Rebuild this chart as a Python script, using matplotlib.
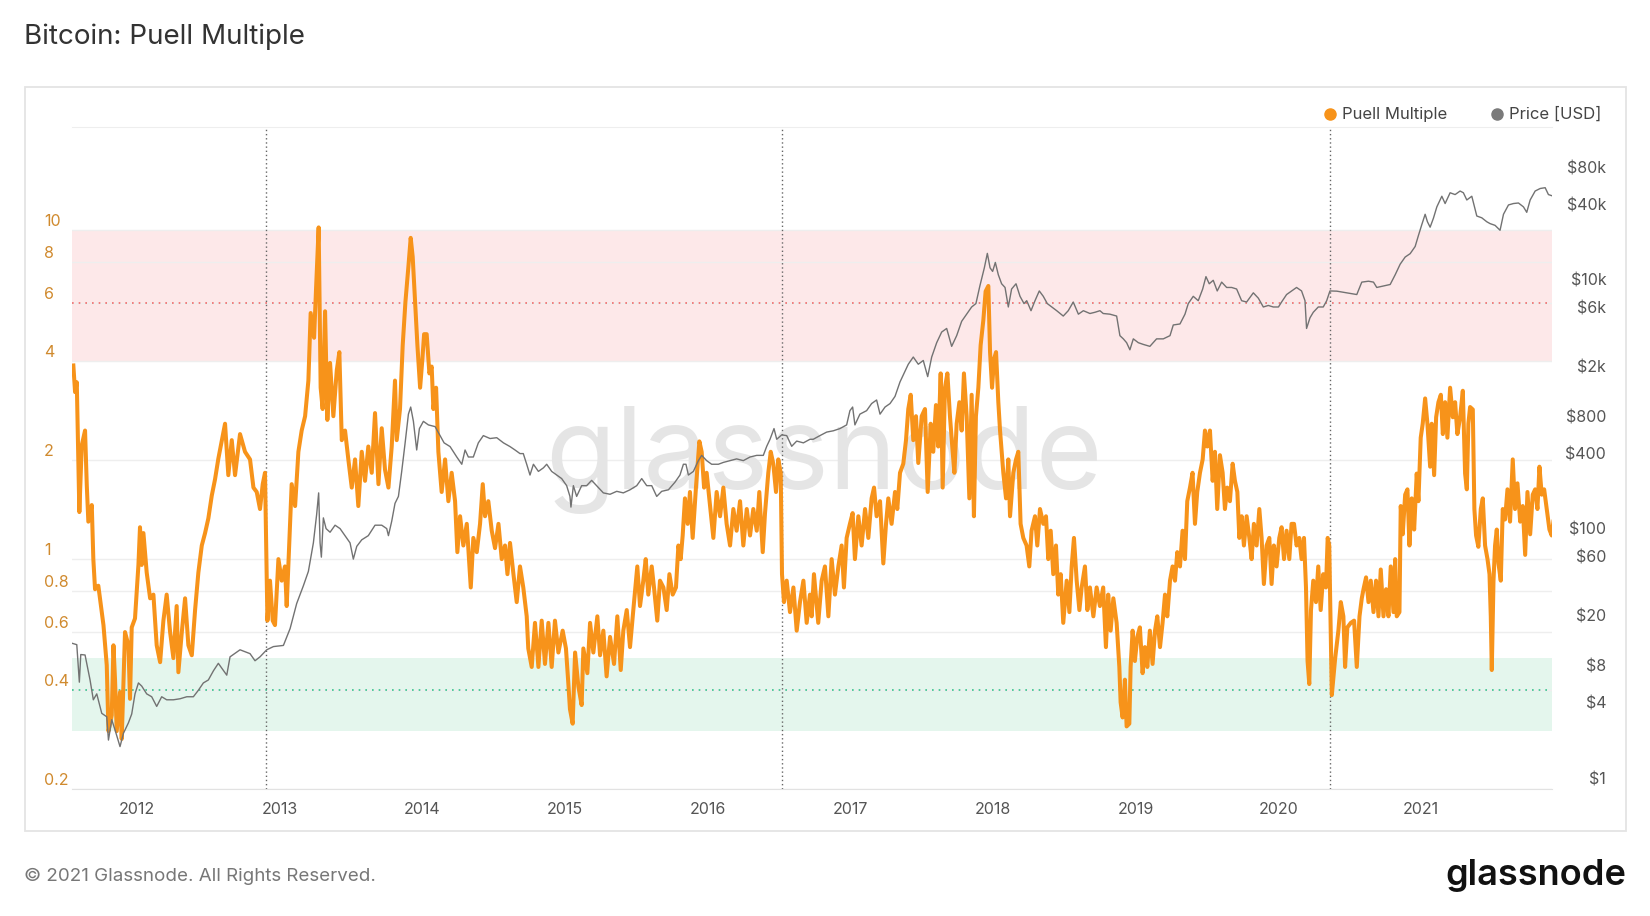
import matplotlib
matplotlib.use("Agg")
import matplotlib.pyplot as plt
from matplotlib.lines import Line2D
from matplotlib.patches import Rectangle
from matplotlib.ticker import NullLocator, NullFormatter
from matplotlib.transforms import ScaledTranslation

plt.rcParams['font.family'] = ['Inter', 'DejaVu Sans']

# Puell Multiple (decimal year, value)
puell_t = [
    2011.555, 2011.567, 2011.579, 2011.597, 2011.614, 2011.637, 2011.649, 2011.660, 2011.684, 2011.695,
    2011.707, 2011.730, 2011.754, 2011.766, 2011.789, 2011.801, 2011.824, 2011.836, 2011.847, 2011.859,
    2011.882, 2011.894, 2011.917, 2011.941, 2011.952, 2011.964, 2011.987,
    2012.011, 2012.022, 2012.034, 2012.046, 2012.069, 2012.093, 2012.116, 2012.139, 2012.163, 2012.186,
    2012.209, 2012.233, 2012.256, 2012.279, 2012.291, 2012.315, 2012.338, 2012.361, 2012.385, 2012.408,
    2012.431, 2012.455, 2012.478, 2012.501, 2012.525, 2012.548, 2012.571, 2012.618, 2012.641, 2012.665,
    2012.688, 2012.723, 2012.758, 2012.793, 2012.817, 2012.840, 2012.863, 2012.882, 2012.898, 2012.915,
    2012.933, 2012.952, 2012.968, 2012.992,
    2013.015, 2013.038, 2013.050, 2013.074, 2013.085, 2013.109, 2013.132, 2013.155, 2013.179, 2013.202,
    2013.218, 2013.242, 2013.256, 2013.274, 2013.288, 2013.302, 2013.319, 2013.335, 2013.354, 2013.377,
    2013.401, 2013.419, 2013.436, 2013.459, 2013.482, 2013.506, 2013.529, 2013.552, 2013.576, 2013.599,
    2013.622, 2013.646, 2013.669, 2013.693, 2013.716, 2013.739, 2013.763, 2013.786, 2013.809, 2013.821,
    2013.844, 2013.863, 2013.882, 2013.903, 2013.919, 2013.933, 2013.950, 2013.966, 2013.985,
    2014.001, 2014.013, 2014.031, 2014.050, 2014.066, 2014.078, 2014.097, 2014.113, 2014.136, 2014.160,
    2014.183, 2014.206, 2014.230, 2014.246, 2014.265, 2014.288, 2014.312, 2014.340, 2014.358, 2014.382,
    2014.405, 2014.424, 2014.440, 2014.463, 2014.487, 2014.510, 2014.534, 2014.557, 2014.580, 2014.597,
    2014.615, 2014.639, 2014.662, 2014.685, 2014.708, 2014.732, 2014.743, 2014.767, 2014.790, 2014.814,
    2014.837, 2014.860, 2014.884, 2014.907, 2014.930, 2014.954, 2014.984,
    2015.007, 2015.024, 2015.035, 2015.054, 2015.071, 2015.094, 2015.117, 2015.129, 2015.157, 2015.176,
    2015.199, 2015.227, 2015.246, 2015.269, 2015.292, 2015.316, 2015.344, 2015.367, 2015.391, 2015.409,
    2015.433, 2015.456, 2015.479, 2015.507, 2015.526, 2015.549, 2015.566, 2015.584, 2015.608, 2015.624,
    2015.647, 2015.666, 2015.690, 2015.713, 2015.732, 2015.755, 2015.778, 2015.795, 2015.811, 2015.825,
    2015.841, 2015.860, 2015.876, 2015.895, 2015.918, 2015.942, 2015.958, 2015.975, 2015.993,
    2016.017, 2016.040, 2016.063, 2016.087, 2016.110, 2016.133, 2016.157, 2016.180, 2016.203, 2016.227,
    2016.250, 2016.274, 2016.297, 2016.320, 2016.344, 2016.362, 2016.386, 2016.402, 2016.425, 2016.442,
    2016.460, 2016.479, 2016.495, 2016.512, 2016.521, 2016.535, 2016.554, 2016.577, 2016.601, 2016.624,
    2016.647, 2016.671, 2016.694, 2016.717, 2016.729, 2016.745, 2016.775, 2016.799, 2016.822, 2016.846,
    2016.869, 2016.892, 2016.916, 2016.939, 2016.955, 2016.974, 2016.997,
    2017.016, 2017.032, 2017.056, 2017.079, 2017.103, 2017.126, 2017.149, 2017.166, 2017.184, 2017.208,
    2017.231, 2017.250, 2017.266, 2017.289, 2017.313, 2017.329, 2017.348, 2017.371, 2017.390, 2017.406,
    2017.423, 2017.441, 2017.460, 2017.476, 2017.500, 2017.523, 2017.542, 2017.563, 2017.581, 2017.600,
    2017.616, 2017.633, 2017.647, 2017.663, 2017.680, 2017.698, 2017.717, 2017.729, 2017.745, 2017.764,
    2017.780, 2017.796, 2017.815, 2017.834, 2017.850, 2017.866, 2017.880, 2017.897, 2017.913, 2017.932,
    2017.948, 2017.967, 2017.979, 2017.993,
    2018.007, 2018.021, 2018.037, 2018.049, 2018.072, 2018.091, 2018.107, 2018.119, 2018.142, 2018.161,
    2018.177, 2018.193, 2018.212, 2018.235, 2018.254, 2018.270, 2018.294, 2018.310, 2018.329, 2018.352,
    2018.371, 2018.387, 2018.404, 2018.422, 2018.441, 2018.457, 2018.474, 2018.492, 2018.516, 2018.535,
    2018.551, 2018.567, 2018.586, 2018.605, 2018.621, 2018.644, 2018.661, 2018.679, 2018.703, 2018.726,
    2018.749, 2018.772, 2018.791, 2018.807, 2018.824, 2018.843, 2018.866, 2018.885, 2018.894, 2018.908,
    2018.924, 2018.936, 2018.955, 2018.964, 2018.978, 2018.994,
    2019.011, 2019.029, 2019.048, 2019.064, 2019.081, 2019.099, 2019.118, 2019.135, 2019.151, 2019.170,
    2019.188, 2019.205, 2019.221, 2019.240, 2019.258, 2019.275, 2019.291, 2019.310, 2019.328, 2019.345,
    2019.361, 2019.380, 2019.398, 2019.415, 2019.431, 2019.450, 2019.469, 2019.485, 2019.501, 2019.520,
    2019.539, 2019.555, 2019.571, 2019.590, 2019.609, 2019.625, 2019.641, 2019.660, 2019.679, 2019.695,
    2019.712, 2019.726, 2019.742, 2019.758, 2019.777, 2019.796, 2019.812, 2019.828, 2019.847, 2019.866,
    2019.882, 2019.898, 2019.917, 2019.936, 2019.952, 2019.968, 2019.987,
    2020.006, 2020.022, 2020.039, 2020.057, 2020.076, 2020.092, 2020.109, 2020.127, 2020.146, 2020.162,
    2020.179, 2020.193, 2020.204, 2020.216, 2020.228, 2020.244, 2020.263, 2020.279, 2020.296, 2020.314,
    2020.333, 2020.345, 2020.356, 2020.374, 2020.397, 2020.420, 2020.437, 2020.455, 2020.467, 2020.483,
    2020.507, 2020.530, 2020.549, 2020.568, 2020.584, 2020.596, 2020.614, 2020.631, 2020.647, 2020.666,
    2020.684, 2020.701, 2020.717, 2020.736, 2020.754, 2020.771, 2020.787, 2020.806, 2020.818, 2020.829,
    2020.848, 2020.857, 2020.871, 2020.888, 2020.904, 2020.918, 2020.934, 2020.951, 2020.969, 2020.981,
    2020.997,
    2021.011, 2021.028, 2021.044, 2021.063, 2021.074, 2021.091, 2021.105, 2021.121, 2021.138, 2021.152,
    2021.168, 2021.184, 2021.203, 2021.222, 2021.238, 2021.254, 2021.273, 2021.292, 2021.308, 2021.320,
    2021.331, 2021.343, 2021.362, 2021.373, 2021.385, 2021.401, 2021.418, 2021.432, 2021.448, 2021.465,
    2021.479, 2021.488, 2021.495, 2021.507, 2021.518, 2021.530, 2021.542, 2021.558, 2021.572, 2021.588,
    2021.605, 2021.623, 2021.642, 2021.658, 2021.675, 2021.694, 2021.712, 2021.729, 2021.745, 2021.764,
    2021.782, 2021.799, 2021.815, 2021.829, 2021.845, 2021.862, 2021.880, 2021.899, 2021.915, 2021.927,
]
puell_v = [
    3.88, 3.22, 3.45, 1.39, 2.22, 2.46, 1.68, 1.30, 1.46, 1.00,
    0.81, 0.83, 0.69, 0.63, 0.476, 0.30, 0.335, 0.547, 0.43, 0.30,
    0.394, 0.284, 0.60, 0.547, 0.376, 0.62, 0.66,
    0.96, 1.25, 0.96, 1.20, 0.91, 0.76, 0.78, 0.547, 0.486, 0.65,
    0.78, 0.60, 0.50, 0.72, 0.453, 0.60, 0.76, 0.547, 0.51, 0.70,
    0.91, 1.10, 1.20, 1.33, 1.56, 1.75, 2.02, 2.58, 1.80, 2.30,
    1.80, 2.40, 2.12, 2.01, 1.65, 1.60, 1.42, 1.69, 1.83, 0.65,
    0.86, 0.65, 0.63, 1.00,
    0.86, 0.95, 0.72, 1.28, 1.69, 1.45, 2.12, 2.46, 2.72, 3.49,
    5.60, 4.71, 6.68, 10.2, 3.32, 2.86, 5.67, 2.65, 3.95, 2.72,
    3.75, 4.26, 2.30, 2.46, 2.01, 1.65, 2.01, 1.45, 2.12, 1.73,
    2.20, 1.83, 2.78, 1.69, 2.50, 1.87, 1.65, 2.20, 3.49, 2.30,
    2.86, 4.47, 6.05, 7.76, 9.48, 8.30, 6.05, 4.47, 3.32,
    4.06, 4.83, 4.83, 3.67, 3.85, 2.86, 3.32, 2.12, 1.60, 2.01,
    1.50, 1.83, 1.50, 1.05, 1.35, 1.10, 1.28, 0.82, 1.16, 1.05,
    1.28, 1.69, 1.35, 1.50, 1.22, 1.08, 1.28, 1.00, 1.10, 0.90,
    1.12, 0.90, 0.74, 0.95, 0.82, 0.67, 0.535, 0.47, 0.64, 0.47,
    0.65, 0.48, 0.64, 0.47, 0.65, 0.52, 0.606,
    0.535, 0.417, 0.35, 0.316, 0.52, 0.41, 0.36, 0.535, 0.45, 0.64,
    0.52, 0.67, 0.51, 0.606, 0.44, 0.58, 0.48, 0.67, 0.46, 0.606,
    0.70, 0.54, 0.70, 0.95, 0.72, 0.86, 1.00, 0.78, 0.95, 0.82,
    0.65, 0.86, 0.82, 0.70, 0.90, 0.78, 0.82, 1.10, 1.00, 1.18,
    1.53, 1.28, 1.60, 1.16, 1.65, 2.28, 2.12, 1.65, 1.83,
    1.45, 1.16, 1.60, 1.35, 1.65, 1.28, 1.10, 1.42, 1.22, 1.50,
    1.10, 1.42, 1.18, 1.42, 1.22, 1.60, 1.05, 1.38, 1.83, 2.12,
    1.95, 1.60, 2.01, 1.83, 0.90, 0.74, 0.86, 0.69, 0.82, 0.606,
    0.74, 0.86, 0.64, 0.78, 0.67, 0.90, 0.64, 0.86, 0.95, 0.67,
    1.00, 0.78, 0.95, 1.10, 0.82, 1.16, 1.28,
    1.38, 1.00, 1.35, 1.10, 1.42, 1.16, 1.53, 1.65, 1.35, 1.50,
    0.97, 1.28, 1.53, 1.28, 1.60, 1.42, 1.83, 1.95, 2.30, 2.86,
    3.16, 2.30, 2.72, 1.96, 2.72, 2.86, 1.60, 2.58, 2.12, 2.94,
    2.20, 3.67, 1.65, 3.32, 3.67, 2.72, 2.12, 1.83, 2.58, 3.00,
    2.46, 3.67, 2.72, 1.53, 3.16, 1.35, 2.72, 3.32, 4.47, 5.33,
    6.52, 6.77, 4.26, 3.32,
    4.06, 4.26, 3.00, 2.46, 1.83, 1.53, 2.01, 1.35, 1.83, 2.01,
    2.12, 1.28, 1.16, 1.10, 0.95, 1.22, 1.35, 1.10, 1.42, 1.28,
    1.35, 1.00, 1.22, 0.90, 1.10, 0.78, 0.90, 0.64, 0.86, 0.69,
    0.95, 1.16, 0.86, 0.70, 0.82, 0.95, 0.70, 0.82, 0.67, 0.82,
    0.72, 0.82, 0.54, 0.78, 0.606, 0.76, 0.64, 0.47, 0.367, 0.33,
    0.43, 0.31, 0.316, 0.47, 0.606, 0.49,
    0.58, 0.62, 0.45, 0.54, 0.47, 0.606, 0.48, 0.606, 0.67, 0.54,
    0.64, 0.78, 0.67, 0.86, 0.95, 0.86, 1.05, 0.95, 1.22, 1.00,
    1.50, 1.65, 1.83, 1.28, 1.60, 1.83, 2.01, 2.46, 2.20, 2.46,
    1.73, 2.12, 1.42, 2.07, 1.83, 1.42, 1.65, 1.50, 1.95, 1.73,
    1.60, 1.16, 1.35, 1.10, 1.35, 1.16, 1.00, 1.28, 1.10, 1.42,
    1.16, 0.84, 1.10, 1.16, 0.84, 1.10, 0.95,
    1.16, 1.25, 1.00, 1.22, 1.00, 1.28, 1.28, 1.10, 1.16, 1.00,
    1.16, 0.82, 0.49, 0.417, 0.70, 0.86, 0.74, 0.95, 0.70, 0.90,
    0.82, 1.16, 1.10, 0.386, 0.497, 0.606, 0.74, 0.67, 0.47, 0.62,
    0.64, 0.65, 0.47, 0.67, 0.76, 0.81, 0.88, 0.74, 0.86, 0.69,
    0.86, 0.67, 0.93, 0.67, 0.81, 0.67, 0.95, 0.69, 1.00, 0.67,
    0.69, 1.45, 1.19, 1.57, 1.63, 1.10, 1.53, 1.23, 1.82, 1.50,
    2.34,
    2.58, 3.08, 2.58, 1.91, 2.58, 1.80, 2.70, 3.00, 3.16, 2.40,
    3.00, 2.34, 3.32, 2.70, 3.00, 2.40, 2.70, 3.25, 1.82, 1.63,
    2.58, 2.90, 2.85, 1.42, 1.18, 1.09, 1.42, 1.53, 1.10, 1.00,
    0.90, 0.67, 0.46, 0.86, 1.10, 1.23, 0.97, 0.86, 1.42, 1.32,
    1.63, 1.30, 2.01, 1.42, 1.70, 1.30, 1.45, 1.03, 1.60, 1.19,
    1.57, 1.63, 1.42, 1.91, 1.57, 1.63, 1.42, 1.23, 1.18, 1.30,
]

# Price [USD] (decimal year, USD)
price_t = [
    2011.544, 2011.579, 2011.597, 2011.607, 2011.637, 2011.672, 2011.695, 2011.719, 2011.754, 2011.789,
    2011.801, 2011.824, 2011.847, 2011.882, 2011.906, 2011.941, 2011.964, 2011.987,
    2012.011, 2012.034, 2012.069, 2012.104, 2012.139, 2012.174, 2012.209, 2012.256, 2012.303, 2012.350,
    2012.396, 2012.431, 2012.466, 2012.501, 2012.537, 2012.571, 2012.630, 2012.653, 2012.723, 2012.793,
    2012.828, 2012.863, 2012.910, 2012.957,
    2013.027, 2013.074, 2013.120, 2013.167, 2013.202, 2013.237, 2013.260, 2013.274, 2013.284, 2013.293,
    2013.307, 2013.326, 2013.354, 2013.389, 2013.424, 2013.459, 2013.494, 2013.517, 2013.541, 2013.576,
    2013.622, 2013.669, 2013.716, 2013.751, 2013.763, 2013.786, 2013.809, 2013.833, 2013.856, 2013.880,
    2013.903, 2013.919, 2013.938, 2013.961, 2013.980,
    2014.008, 2014.043, 2014.090, 2014.125, 2014.153, 2014.195, 2014.242, 2014.277, 2014.300, 2014.323,
    2014.358, 2014.393, 2014.428, 2014.475, 2014.522, 2014.569, 2014.615, 2014.650, 2014.685, 2014.708,
    2014.732, 2014.755, 2014.779, 2014.814, 2014.849, 2014.872, 2014.907, 2014.942, 2014.977,
    2015.012, 2015.035, 2015.042, 2015.059, 2015.082, 2015.117, 2015.152, 2015.187, 2015.222, 2015.269,
    2015.316, 2015.363, 2015.409, 2015.456, 2015.503, 2015.538, 2015.573, 2015.608, 2015.643, 2015.678,
    2015.725, 2015.771, 2015.806, 2015.830, 2015.848, 2015.865, 2015.900, 2015.935, 2015.958, 2015.993,
    2016.028, 2016.075, 2016.110, 2016.157, 2016.203, 2016.250, 2016.297, 2016.344, 2016.390, 2016.414,
    2016.437, 2016.465, 2016.484, 2016.519, 2016.554, 2016.589, 2016.624, 2016.671, 2016.717, 2016.740,
    2016.787, 2016.834, 2016.881, 2016.927, 2016.974, 2016.997,
    2017.016, 2017.032, 2017.067, 2017.114, 2017.149, 2017.184, 2017.208, 2017.243, 2017.278, 2017.313,
    2017.348, 2017.383, 2017.406, 2017.441, 2017.476, 2017.511, 2017.542, 2017.570, 2017.605, 2017.640,
    2017.675, 2017.710, 2017.745, 2017.780, 2017.815, 2017.850, 2017.880, 2017.908, 2017.939, 2017.960,
    2017.979, 2017.997,
    2018.016, 2018.037, 2018.060, 2018.084, 2018.107, 2018.130, 2018.161, 2018.189, 2018.217, 2018.236,
    2018.266, 2018.294, 2018.324, 2018.352, 2018.380, 2018.411, 2018.446, 2018.492, 2018.527, 2018.562,
    2018.598, 2018.633, 2018.679, 2018.714, 2018.749, 2018.772, 2018.819, 2018.866, 2018.889, 2018.913,
    2018.936, 2018.959, 2018.983,
    2019.018, 2019.053, 2019.099, 2019.146, 2019.193, 2019.240, 2019.263, 2019.310, 2019.345, 2019.368,
    2019.403, 2019.438, 2019.469, 2019.492, 2019.515, 2019.543, 2019.571, 2019.602, 2019.637, 2019.672,
    2019.707, 2019.742, 2019.777, 2019.824, 2019.859, 2019.894, 2019.929, 2019.964,
    2020.000, 2020.022, 2020.057, 2020.092, 2020.127, 2020.162, 2020.186, 2020.197, 2020.221, 2020.244,
    2020.279, 2020.314, 2020.338, 2020.361, 2020.409, 2020.479, 2020.549, 2020.584, 2020.631, 2020.666,
    2020.689, 2020.736, 2020.783, 2020.818, 2020.853, 2020.888, 2020.923, 2020.958, 2020.981,
    2021.004, 2021.028, 2021.044, 2021.063, 2021.086, 2021.110, 2021.145, 2021.168, 2021.203, 2021.238,
    2021.273, 2021.296, 2021.320, 2021.355, 2021.390, 2021.425, 2021.460, 2021.483, 2021.518, 2021.553,
    2021.577, 2021.612, 2021.647, 2021.682, 2021.717, 2021.740, 2021.764, 2021.799, 2021.834, 2021.869,
    2021.892, 2021.927,
]
price_v = [
    14.8, 14.4, 7.2, 12.0, 11.9, 7.5, 5.2, 5.8, 4.05, 3.8,
    2.47, 3.6, 2.98, 2.19, 2.8, 3.4, 4.0, 5.8,
    7.1, 6.7, 5.8, 5.5, 4.6, 5.5, 5.2, 5.2, 5.3, 5.5,
    5.5, 6.2, 7.1, 7.5, 8.9, 10.2, 8.2, 11.5, 13.1, 12.2,
    10.7, 11.5, 13.1, 13.9,
    14.2, 19.4, 30.8, 42.8, 55.8, 94.5, 160, 238, 94.5, 72.6,
    150, 123, 115, 131, 123, 108, 94.5, 70, 88.6, 100,
    108, 131, 131, 123, 108, 141, 196, 223, 354, 600,
    1020, 1163, 893, 526, 781,
    893, 836, 810, 686, 600, 560, 462, 404, 526, 462,
    462, 600, 686, 650, 660, 600, 560, 526, 492, 492,
    404, 331, 404, 354, 378, 404, 354, 331, 310,
    272, 223, 183, 272, 223, 272, 272, 300, 272, 238,
    232, 245, 238, 252, 272, 310, 272, 272, 223, 245,
    252, 290, 331, 404, 404, 331, 354, 432, 476, 432,
    404, 404, 418, 432, 446, 432, 462, 476, 476, 563,
    641, 781, 641, 695, 686, 563, 620, 600, 641, 641,
    686, 732, 750, 781, 836, 1088,
    1163, 836, 1020, 1088, 1240, 1325, 1020, 1163, 1240, 1416,
    1850, 2250, 2565, 2930, 2565, 2750, 2040, 2930, 3820, 4650,
    4970, 3570, 4350, 5670, 6470, 7390, 7870, 10950, 15240, 19900,
    15240, 14260,
    16830, 13400, 11350, 10600, 7390, 10300, 11350, 9000, 7870, 8300,
    6900, 8300, 9940, 9000, 7870, 7390, 6900, 6250, 6900, 8100,
    6470, 6900, 6550, 6700, 6900, 6550, 6470, 6250, 4350, 4100,
    3820, 3350, 4100,
    3820, 3700, 3570, 4100, 4100, 4350, 5300, 5400, 6470, 7870,
    9000, 8300, 10300, 12950, 11350, 12100, 9940, 11700, 10600, 10600,
    10300, 8300, 8100, 9600, 8700, 7390, 7600, 7390,
    7390, 8100, 9300, 9940, 10600, 9940, 8300, 4970, 6050, 6700,
    7390, 7390, 8300, 9940, 9900, 9600, 9300, 11700, 11900, 11700,
    10600, 10900, 11200, 13400, 16300, 18600, 19800, 22600, 27700,
    33700, 41000, 35700, 32300, 38100, 47000, 57200, 50000, 61000, 59000,
    63000, 61000, 53400, 57200, 39700, 38400, 35700, 34500, 33400, 30500,
    41000, 48700, 50000, 50500, 47000, 42500, 53400, 63000, 66000, 67000,
    59000, 57200,
]

halvings = [2012.908, 2016.519, 2020.359]
years = list(range(2012, 2022))
puell_ticks = [0.2, 0.4, 0.6, 0.8, 1, 2, 4, 6, 8, 10]
puell_labels = ['0.2', '0.4', '0.6', '0.8', '1', '2', '4', '6', '8', '10']
price_ticks = [1, 4, 8, 20, 60, 100, 400, 800, 2000, 6000, 10000, 40000, 80000]
price_labels = ['$1', '$4', '$8', '$20', '$60', '$100', '$400', '$800',
                '$2k', '$6k', '$10k', '$40k', '$80k']

W, H = 1650, 916
fig = plt.figure(figsize=(W / 100, H / 100), dpi=100)
fig.patch.set_facecolor('white')

# outer card
fig.add_artist(Rectangle((25 / W, 1 - 831 / H), (1626 - 25) / W, (831 - 87) / H,
                         transform=fig.transFigure, facecolor='none',
                         edgecolor='#e4e4e4', lw=1.3))

left, right, top, bottom = 71.5, 1552, 127, 789
ax = fig.add_axes([left / W, 1 - bottom / H, (right - left) / W, (bottom - top) / H])
ax.set_yscale('log')
ax.set_ylim(0.2, 20.6)
ax.set_xlim(2011.542, 2021.917)

# zones
ax.axhspan(4, 10, color='#fde8e9', zorder=0, lw=0)
ax.axhspan(0.3, 0.5, color='#e4f6ed', zorder=0, lw=0)
ax.axhline(6, color='#ef6b6b', ls=(0, (1, 3)), lw=1.2, zorder=1)
ax.axhline(0.4, color='#35c48c', ls=(0, (1, 3)), lw=1.2, zorder=1)
for h in halvings:
    ax.axvline(h, color='#666666', ls=(0, (1, 2)), lw=1.0, zorder=1)

ax.text(0.508, 0.453, 'glassnode', transform=ax.transAxes, ha='center', va='baseline',
        fontsize=82.5, color='#e5e5e5', zorder=0.8)

ax.plot(puell_t, puell_v, color='#f7931a', lw=2.9, solid_joinstyle='round', zorder=3)

ax.set_yticks(puell_ticks)
ax.set_yticklabels(puell_labels)
ax.yaxis.set_minor_locator(NullLocator())
ax.yaxis.set_minor_formatter(NullFormatter())
ax.grid(axis='y', color='#eeeeee', lw=1)
ax.set_axisbelow(True)
ax.tick_params(axis='y', length=0, pad=19.8, labelsize=11.5, labelcolor='#d08a2e')
for lab in ax.get_yticklabels():
    lab.set_horizontalalignment('left')
    lab.set_transform(lab.get_transform() + ScaledTranslation(0, 10 / 100, fig.dpi_scale_trans))

ax.set_xticks(years)
ax.set_xticklabels([str(y) for y in years])
ax.tick_params(axis='x', length=0, pad=9, labelsize=11.5, labelcolor='#555555')

for s in ['left', 'right']:
    ax.spines[s].set_visible(False)
ax.spines['top'].set_color('#eeeeee')
ax.spines['bottom'].set_color('#e2e2e2')

ax2 = ax.twinx()
ax2.set_yscale('log')
ax2.set_ylim(1, 2 ** 17.65)
ax2.plot(price_t, price_v, color='#727272', lw=1.0, zorder=4)
ax2.set_yticks(price_ticks)
ax2.set_yticklabels(price_labels)
ax2.yaxis.set_minor_locator(NullLocator())
ax2.yaxis.set_minor_formatter(NullFormatter())
ax2.tick_params(axis='y', length=0, pad=39, labelsize=11.5, labelcolor='#555555')
for lab in ax2.get_yticklabels():
    lab.set_horizontalalignment('right')
    lab.set_transform(lab.get_transform() + ScaledTranslation(0, 11 / 100, fig.dpi_scale_trans))
for s in ax2.spines.values():
    s.set_visible(False)

# legend
ly = 1 - 114 / H
fig.add_artist(Line2D([1330 / W], [ly], marker='o', color='#f7931a', markersize=8,
                      transform=fig.transFigure, lw=0))
fig.text(1342 / W, ly, 'Puell Multiple', fontsize=12, color='#444444', va='center')
fig.add_artist(Line2D([1497 / W], [ly], marker='o', color='#7a7a7a', markersize=8,
                      transform=fig.transFigure, lw=0))
fig.text(1509 / W, ly, 'Price [USD]', fontsize=12, color='#444444', va='center')

fig.text(24 / W, 1 - 37 / H, 'Bitcoin: Puell Multiple', fontsize=20, color='#333333', va='center')
fig.text(24 / W, 1 - 876 / H, '\u00a9 2021 Glassnode. All Rights Reserved.', fontsize=13.5,
         color='#777777', va='center')
fig.text(1626 / W, 1 - 876 / H, 'glassnode', fontsize=26, fontweight='semibold',
         color='#111111', ha='right', va='center')

fig.savefig('out.png', dpi=100)
